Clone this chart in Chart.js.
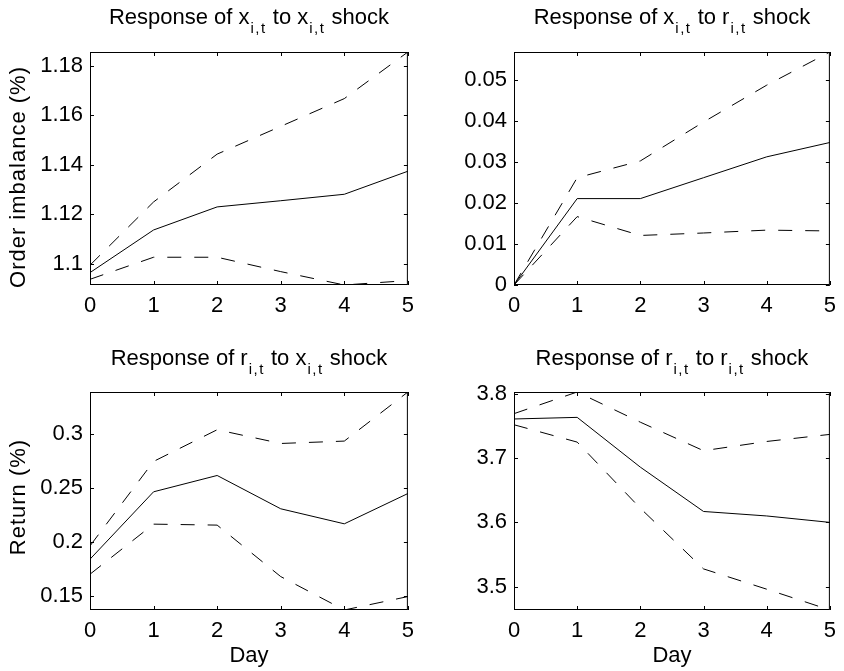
<!DOCTYPE html>
<html>
<head>
<meta charset="utf-8">
<script src="https://cdn.jsdelivr.net/npm/chart.js@4.4.1/dist/chart.umd.min.js"></script>
<style>
  html, body { margin: 0; padding: 0; background: #fff; }
  #wrap { position: relative; width: 844px; height: 671px; overflow: hidden; }
  canvas { position: absolute; }
</style>
</head>
<body>
<div id="wrap">
  <canvas id="c1" width="422" height="330" style="left:0;top:0"></canvas>
  <canvas id="c2" width="422" height="330" style="left:422px;top:0"></canvas>
  <canvas id="c3" width="422" height="341" style="left:0;top:330px"></canvas>
  <canvas id="c4" width="422" height="341" style="left:422px;top:330px"></canvas>
</div>
<script>
// ---- data ----
const days = [0, 1, 2, 3, 4, 5];

// response of x to x shock
const xxMid = [1.0965, 1.1137, 1.1230, 1.1255, 1.1281, 1.1374];
const xxUp  = [1.0995, 1.1250, 1.1443, 1.1555, 1.1667, 1.1855];
const xxLo  = [1.0938, 1.1027, 1.1027, 1.0969, 1.0915, 1.0933];
const xxTicks = [1.1, 1.12, 1.14, 1.16, 1.18];

// response of x to r shock
const xrMid = [0, 0.0211, 0.0211, 0.0262, 0.0313, 0.0348];
const xrUp  = [0, 0.0262, 0.0303, 0.0398, 0.0488, 0.0569];
const xrLo  = [0, 0.0167, 0.0121, 0.0127, 0.0134, 0.0132];
const xrTicks = [0, 0.01, 0.02, 0.03, 0.04, 0.05];

// response of r to x shock
const rxMid = [0.184, 0.2463, 0.2614, 0.2306, 0.2167, 0.2447];
const rxUp  = [0.1963, 0.2744, 0.3037, 0.2910, 0.2932, 0.3386];
const rxLo  = [0.1701, 0.2164, 0.2155, 0.1679, 0.1370, 0.1494];
const rxTicks = [0.15, 0.2, 0.25, 0.3];

// response of r to r shock
const rrMid = [3.761, 3.7635, 3.686, 3.617, 3.610, 3.600];
const rrUp  = [3.7693, 3.803, 3.756, 3.7116, 3.726, 3.737];
const rrLo  = [3.752, 3.725, 3.622, 3.5276, 3.496, 3.4636];
const rrTicks = [3.5, 3.6, 3.7, 3.8];

Chart.defaults.font.family = "'Liberation Sans', Arial, sans-serif";
Chart.defaults.font.size = 22;
Chart.defaults.color = '#000';

const FONT = "'Liberation Sans', Arial, sans-serif";

// box, inward ticks, titles with subscripts
const framePlugin = {
  id: 'frame',
  afterDraw(chart, args, o) {
    const { ctx, chartArea: a, scales } = chart;
    ctx.save();
    ctx.strokeStyle = '#000';
    ctx.lineWidth = 1;
    ctx.strokeRect(a.left + 0.5, a.top + 0.5, a.right - a.left - 1, a.bottom - a.top - 1);
    ctx.beginPath();
    scales.x.ticks.forEach(t => {
      const p = Math.round(scales.x.getPixelForValue(t.value)) + 0.5;
      ctx.moveTo(p, a.bottom); ctx.lineTo(p, a.bottom - 4);
      ctx.moveTo(p, a.top); ctx.lineTo(p, a.top + 4);
    });
    scales.y.ticks.forEach(t => {
      const p = Math.round(scales.y.getPixelForValue(t.value)) + 0.5;
      ctx.moveTo(a.left, p); ctx.lineTo(a.left + 4, p);
      ctx.moveTo(a.right, p); ctx.lineTo(a.right - 4, p);
    });
    ctx.stroke();

    // title, subscripts a bit lower and spaced out like the tex renderer
    ctx.fillStyle = '#000';
    ctx.textBaseline = 'alphabetic';
    ctx.textAlign = 'left';
    const big = '22px ' + FONT, small = '15px ' + FONT;
    const setBig = () => { ctx.font = big; ctx.letterSpacing = '0px'; };
    const setSmall = () => { ctx.font = small; ctx.letterSpacing = '1.5px'; };
    let w = 0;
    o.title.forEach(([txt, sub]) => {
      setBig(); w += ctx.measureText(txt).width;
      if (sub) { setSmall(); w += ctx.measureText(sub).width + 1; }
    });
    let x = (a.left + a.right) / 2 - w / 2;
    o.title.forEach(([txt, sub]) => {
      setBig(); ctx.fillText(txt, x, o.titleY); x += ctx.measureText(txt).width;
      if (sub) { setSmall(); ctx.fillText(sub, x + 1, o.titleY + 9); x += ctx.measureText(sub).width + 1; }
    });

    ctx.font = big;
    ctx.letterSpacing = '1px';
    if (o.ylabel) {
      ctx.save();
      ctx.translate(25, o.ylabelY);
      ctx.rotate(-Math.PI / 2);
      ctx.textAlign = 'center';
      ctx.fillText(o.ylabel, 0, 0);
      ctx.restore();
    }
    ctx.letterSpacing = '0px';
    if (o.xlabel) {
      ctx.textAlign = 'center';
      ctx.fillText(o.xlabel, (a.left + a.right) / 2, o.xlabelY);
    }
    ctx.restore();
  }
};

function fmt(v) { return String(+v.toFixed(4)); }

function panel(id, box, series, yMin, yMax, yTicks, frame) {
  const H = document.getElementById(id).height;
  const W = document.getElementById(id).width;
  const mk = (vals, dash) => ({
    data: days.map((d, i) => ({ x: d, y: vals[i] })),
    borderColor: '#000',
    borderWidth: 1,
    borderDash: dash,
    pointRadius: 0,
    tension: 0,
    fill: false
  });
  new Chart(document.getElementById(id), {
    type: 'line',
    data: {
      datasets: [mk(series[0], []), mk(series[1], [14, 13]), mk(series[2], [14, 13])]
    },
    options: {
      responsive: false,
      animation: false,
      devicePixelRatio: 1,
      layout: { padding: { left: 0, top: box.top, right: W - box.right, bottom: 0 } },
      plugins: { legend: { display: false }, tooltip: { enabled: false }, frame: frame },
      scales: {
        x: {
          type: 'linear', min: 0, max: 5,
          grid: { display: false, drawTicks: false },
          border: { display: false },
          afterBuildTicks: s => { s.ticks = days.map(v => ({ value: v })); },
          afterFit: s => { s.height = H - box.bottom; },
          ticks: { padding: 8, maxRotation: 0, callback: v => fmt(v) }
        },
        y: {
          min: yMin, max: yMax,
          grid: { display: false, drawTicks: false },
          border: { display: false },
          afterBuildTicks: s => { s.ticks = yTicks.map(v => ({ value: v })); },
          afterFit: s => { s.width = box.left; },
          ticks: { padding: 7, callback: v => fmt(v) }
        }
      }
    },
    plugins: [framePlugin]
  });
}

panel('c1', { left: 90, right: 412, top: 52, bottom: 285 }, [xxMid, xxUp, xxLo], 1.0915, 1.1855, xxTicks,
  { title: [['Response of x', 'i,t'], [' to x', 'i,t'], [' shock', '']], titleY: 24, ylabel: 'Order imbalance (%)', ylabelY: 177 });
panel('c2', { left: 92, right: 413, top: 52, bottom: 285 }, [xrMid, xrUp, xrLo], 0, 0.0569, xrTicks,
  { title: [['Response of x', 'i,t'], [' to r', 'i,t'], [' shock', '']], titleY: 24 });
panel('c3', { left: 90, right: 412, top: 62, bottom: 280 }, [rxMid, rxUp, rxLo], 0.137, 0.3386, rxTicks,
  { title: [['Response of r', 'i,t'], [' to x', 'i,t'], [' shock', '']], titleY: 35, ylabel: 'Return (%)', ylabelY: 167, xlabel: 'Day', xlabelY: 332 });
panel('c4', { left: 92, right: 413, top: 62, bottom: 280 }, [rrMid, rrUp, rrLo], 3.4636, 3.803, rrTicks,
  { title: [['Response of r', 'i,t'], [' to r', 'i,t'], [' shock', '']], titleY: 35, xlabel: 'Day', xlabelY: 332 });
</script>
</body>
</html>
